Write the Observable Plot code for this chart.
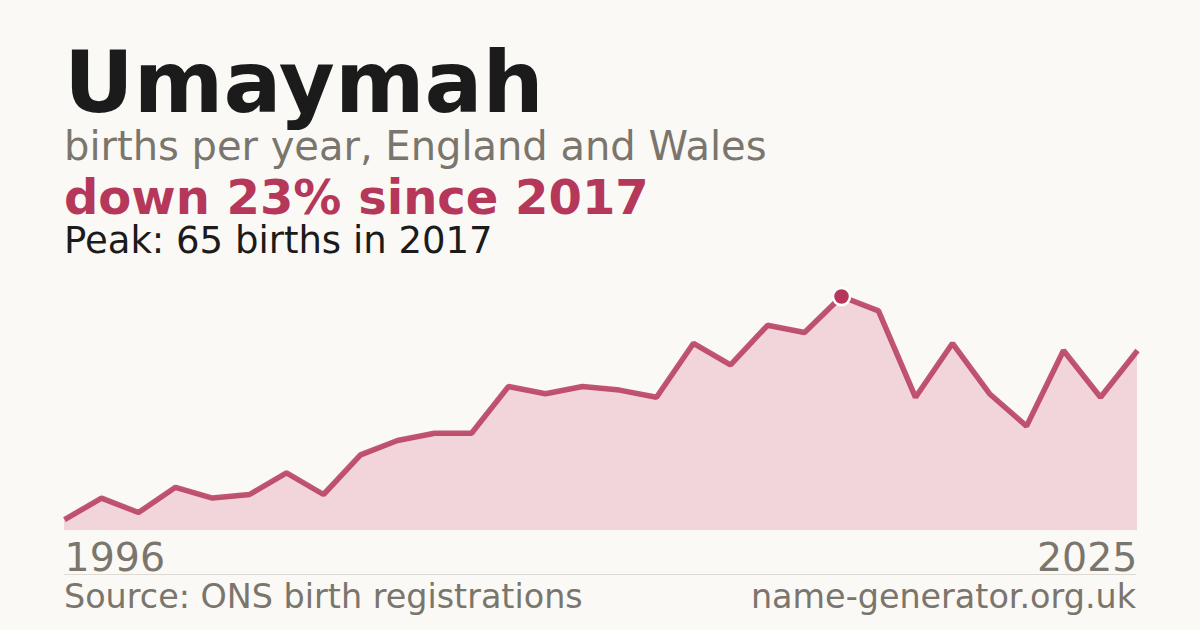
<!DOCTYPE html>
<html>
<head>
<meta charset="utf-8">
<script src="https://cdn.jsdelivr.net/npm/d3@7"></script>
<script src="https://cdn.jsdelivr.net/npm/@observablehq/plot@0.6"></script>
<style>
  html, body { margin: 0; padding: 0; background: #faf9f5; }
  #page { position: relative; width: 1200px; height: 630px; overflow: hidden; background: #faf9f5; font-family: "DejaVu Sans", sans-serif; }
  #page svg { position: absolute; left: 0; top: 0; }
  .t { position: absolute; left: 64px; line-height: 0.9; white-space: nowrap; }
  #title { top: 44px; font-size: 86px; font-weight: bold; color: #1b1b1b; }
  #sub { top: 128px; font-size: 40px; color: #7a756d; }
  #change { top: 176px; font-size: 48px; font-weight: bold; color: #b5385a; }
  #peak { top: 224px; font-size: 37px; color: #1b1b1b; }
  #rule { position: absolute; left: 64px; top: 574px; width: 1072px; height: 1px; background: #dedad2; }
  .foot { position: absolute; top: 582px; font-size: 33.4px; line-height: 0.9; color: #7a756d; white-space: nowrap; }
  #source { left: 64px; }
  #site { right: 64px; }
</style>
</head>
<body>
<div id="page">
  <div id="chart"></div>
  <div class="t" id="title">Umaymah</div>
  <div class="t" id="sub">births per year, England and Wales</div>
  <div class="t" id="change">down 23% since 2017</div>
  <div class="t" id="peak">Peak: 65 births in 2017</div>
  <div id="rule"></div>
  <div class="foot" id="source">Source: ONS birth registrations</div>
  <div class="foot" id="site">name-generator.org.uk</div>
</div>
<script>
const years = [1996,1997,1998,1999,2000,2001,2002,2003,2004,2005,2006,2007,2008,2009,2010,2011,2012,2013,2014,2015,2016,2017,2018,2019,2020,2021,2022,2023,2024,2025];
const births = [3,9,5,12,9,10,16,10,21,25,27,27,40,38,40,39,37,52,46,57,55,65,61,37,52,38,29,50,37,50];
const peakYear = 2017;
const peakValue = 65;
const firstYearLabel = [1996];
const lastYearLabel = [2025];

const data = years.map((y, i) => ({year: y, births: births[i]}));
const peak = [{year: peakYear, births: peakValue}];

const red = "#b5385a";

const chart = Plot.plot({
  width: 1200,
  height: 630,
  marginLeft: 64,
  marginRight: 63,
  marginTop: 296,
  marginBottom: 100,
  style: {background: "transparent", overflow: "visible", fontFamily: "DejaVu Sans, sans-serif"},
  x: {domain: [1996, 2025], axis: null},
  y: {domain: [0, 65], axis: null},
  marks: [
    Plot.areaY(data, {x: "year", y: "births", fill: "#f2d5db", curve: "linear"}),
    Plot.lineY(data, {x: "year", y: "births", stroke: red, strokeWidth: 5.5, strokeOpacity: 0.85, curve: "linear", strokeLinejoin: "miter", strokeLinecap: "butt"}),
    Plot.dot(peak, {x: "year", y: "births", r: 8.5, fill: red, stroke: "white", strokeWidth: 2.5}),
    Plot.text(firstYearLabel, {x: d => d, frameAnchor: "bottom", text: d => String(d), textAnchor: "start", lineAnchor: "top", dy: 12, fontSize: 39.5, fill: "#7a756d"}),
    Plot.text(lastYearLabel, {x: d => d, frameAnchor: "bottom", text: d => String(d), textAnchor: "end", lineAnchor: "top", dy: 12, fontSize: 39.5, fill: "#7a756d"})
  ]
});
document.getElementById("chart").appendChild(chart);
</script>
</body>
</html>
